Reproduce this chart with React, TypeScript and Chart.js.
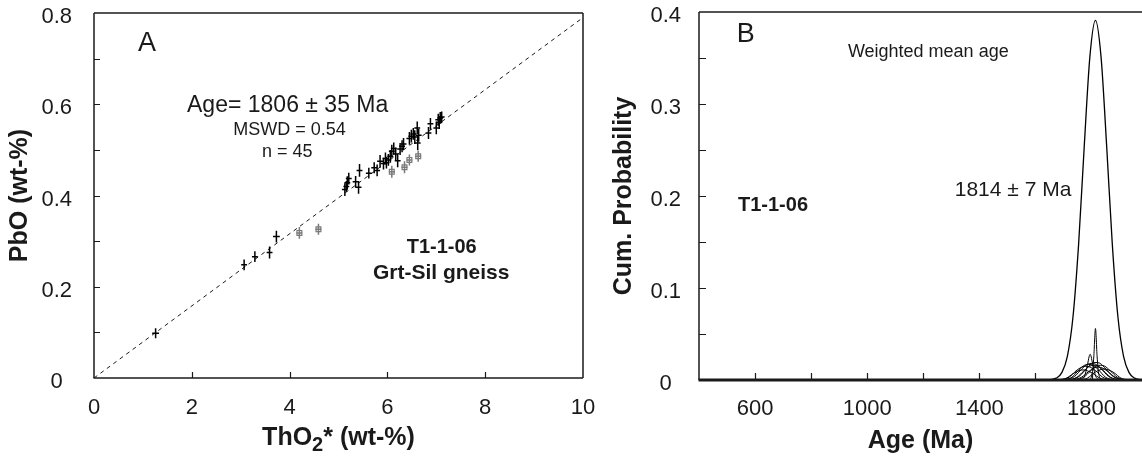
import React, { useEffect, useRef } from "react";
import { Chart, registerables } from "chart.js";
Chart.register(...registerables);

const FONT = '"Liberation Sans", Arial, Helvetica, sans-serif';
const INK = "#1a1a1a";

// ---------- Panel A: PbO vs ThO2* ----------
const thoBlack = [1.26, 3.07, 3.29, 3.59, 3.73, 5.13, 5.16, 5.18, 5.21, 5.35, 5.41, 5.43, 5.62, 5.73, 5.79, 5.85, 5.92, 5.96, 6.02, 6.06, 6.09, 6.13, 6.17, 6.21, 6.3, 6.33, 6.49, 6.53, 6.56, 6.61, 6.62, 6.64, 6.84, 6.88, 7.0, 7.04, 7.08, 7.11, 7.06, 5.98, 6.26, 6.45];
const pboBlack = [0.098, 0.248, 0.266, 0.275, 0.31, 0.413, 0.42, 0.428, 0.437, 0.43, 0.418, 0.455, 0.449, 0.461, 0.455, 0.475, 0.47, 0.481, 0.478, 0.486, 0.497, 0.503, 0.491, 0.476, 0.508, 0.513, 0.53, 0.535, 0.528, 0.548, 0.515, 0.532, 0.537, 0.557, 0.548, 0.566, 0.57, 0.572, 0.56, 0.472, 0.502, 0.525];
const thoErrBlack = [0.07, 0.06, 0.06, 0.06, 0.07, 0.06, 0.06, 0.06, 0.06, 0.06, 0.06, 0.06, 0.06, 0.06, 0.06, 0.06, 0.06, 0.06, 0.06, 0.06, 0.06, 0.06, 0.06, 0.06, 0.06, 0.06, 0.06, 0.06, 0.06, 0.06, 0.06, 0.06, 0.06, 0.06, 0.06, 0.06, 0.06, 0.06, 0.06, 0.06, 0.06, 0.06];
const pboErrBlack = [0.011, 0.012, 0.012, 0.013, 0.013, 0.014, 0.012, 0.014, 0.013, 0.013, 0.014, 0.014, 0.012, 0.012, 0.013, 0.014, 0.013, 0.013, 0.013, 0.014, 0.014, 0.013, 0.014, 0.014, 0.013, 0.013, 0.014, 0.013, 0.015, 0.014, 0.016, 0.014, 0.013, 0.013, 0.014, 0.013, 0.013, 0.012, 0.014, 0.013, 0.013, 0.014];
const thoGray = [4.2, 4.59, 6.09, 6.35, 6.45, 6.63];
const pboGray = [0.318, 0.326, 0.452, 0.462, 0.478, 0.486];
const thoErrGray = [0.06, 0.06, 0.06, 0.06, 0.06, 0.06];
const pboErrGray = [0.013, 0.012, 0.013, 0.013, 0.012, 0.012];
const refLineTho = [0, 10];
const refLinePbo = [0, 0.79];
const aXTicks = [0, 2, 4, 6, 8, 10];
const aXLabels = ["0", "2", "4", "6", "8", "10"];
const aYTicks = [0, 0.1, 0.2, 0.3, 0.4, 0.5, 0.6, 0.7, 0.8];
const aYLabels = ["0", "", "0.2", "", "0.4", "", "0.6", "", "0.8"];

// ---------- Panel B: probability density ----------
const mainAge = [400, 1614, 1654, 1674, 1694, 1714, 1734, 1754, 1774, 1794, 1814, 1834, 1854, 1874, 1894, 1914, 1934, 1954, 1974, 1980];
const mainProb = [0, 0, 0.0004, 0.002, 0.008, 0.026, 0.069, 0.148, 0.254, 0.351, 0.391, 0.351, 0.254, 0.148, 0.069, 0.026, 0.008, 0.002, 0.0004, 0];
const baselineAge = [400, 1980];
const baselineProb = [0, 0];
const grain1 = [[1680, 0], [1710, 0.002], [1735, 0.007], [1755, 0.01], [1770, 0.011], [1785, 0.01], [1805, 0.007], [1830, 0.002], [1860, 0]];
const grain2 = [[1690, 0], [1720, 0.003], [1745, 0.01], [1765, 0.014], [1780, 0.015], [1795, 0.014], [1815, 0.01], [1840, 0.003], [1870, 0]];
const grain3 = [[1700, 0], [1730, 0.003], [1755, 0.011], [1775, 0.016], [1790, 0.017], [1805, 0.016], [1825, 0.011], [1850, 0.003], [1880, 0]];
const grain4 = [[1710, 0], [1740, 0.004], [1765, 0.012], [1785, 0.017], [1800, 0.018], [1815, 0.017], [1835, 0.012], [1860, 0.004], [1890, 0]];
const grain5 = [[1718, 0], [1748, 0.003], [1773, 0.01], [1793, 0.015], [1808, 0.016], [1823, 0.015], [1843, 0.01], [1868, 0.003], [1898, 0]];
const grain6 = [[1726, 0], [1756, 0.004], [1781, 0.012], [1801, 0.018], [1816, 0.019], [1831, 0.018], [1851, 0.012], [1876, 0.004], [1906, 0]];
const grain7 = [[1734, 0], [1764, 0.003], [1789, 0.009], [1809, 0.013], [1824, 0.014], [1839, 0.013], [1859, 0.009], [1884, 0.003], [1914, 0]];
const grain8 = [[1742, 0], [1772, 0.003], [1797, 0.01], [1817, 0.015], [1832, 0.016], [1847, 0.015], [1867, 0.01], [1892, 0.003], [1922, 0]];
const grain9 = [[1755, 0], [1785, 0.002], [1810, 0.008], [1830, 0.011], [1845, 0.012], [1860, 0.011], [1880, 0.008], [1905, 0.002], [1935, 0]];
const grain10 = [[1760, 0], [1775, 0.004], [1785, 0.016], [1795, 0.028], [1805, 0.016], [1815, 0.004], [1830, 0]];
const grain11 = [[1790, 0], [1802, 0.006], [1808, 0.025], [1814, 0.056], [1820, 0.025], [1826, 0.006], [1838, 0]];
const grainCurves = [grain1, grain2, grain3, grain4, grain5, grain6, grain7, grain8, grain9, grain10, grain11];
const bXTicks = [400, 600, 800, 1000, 1200, 1400, 1600, 1800];
const bXLabels = ["", "600", "", "1000", "", "1400", "", "1800"];
const bYTicks = [0, 0.05, 0.1, 0.15, 0.2, 0.25, 0.3, 0.35, 0.4];
const bYLabels = ["0", "", "0.1", "", "0.2", "", "0.3", "", "0.4"];

// ---------- plugins ----------
const errorBars = {
  id: "errorBars",
  afterDatasetsDraw(chart: any) {
    const { ctx } = chart;
    const xs = chart.scales.x, ys = chart.scales.y;
    ctx.save();
    chart.data.datasets.forEach((ds: any) => {
      if (!ds.errX) return;
      ctx.strokeStyle = ds.errColor;
      ctx.lineWidth = 1.5;
      ds.data.forEach((p: any, i: number) => {
        const cx = xs.getPixelForValue(p.x), cy = ys.getPixelForValue(p.y);
        const x0 = xs.getPixelForValue(p.x - ds.errX[i]), x1 = xs.getPixelForValue(p.x + ds.errX[i]);
        const y0 = ys.getPixelForValue(p.y - ds.errY[i]), y1 = ys.getPixelForValue(p.y + ds.errY[i]);
        ctx.beginPath();
        ctx.moveTo(x0, cy); ctx.lineTo(x1, cy);
        ctx.moveTo(cx, y0); ctx.lineTo(cx, y1);
        ctx.stroke();
      });
    });
    ctx.restore();
  },
};

const frameAndTicks = {
  id: "frameAndTicks",
  afterDraw(chart: any, _a: any, opts: any) {
    const { ctx, chartArea: a } = chart;
    const xs = chart.scales.x, ys = chart.scales.y;
    ctx.save();
    ctx.strokeStyle = INK;
    ctx.lineWidth = 1.2;
    ctx.beginPath();
    xs.ticks.forEach((t: any) => {
      const p = Math.round(xs.getPixelForValue(t.value)) + 0.5;
      if (p <= a.left + 2 || p >= a.right - 2) return;
      ctx.moveTo(p, a.bottom); ctx.lineTo(p, a.bottom - opts.len);
    });
    ys.ticks.forEach((t: any) => {
      const p = Math.round(ys.getPixelForValue(t.value)) + 0.5;
      if (p <= a.top + 2 || p >= a.bottom - 2) return;
      ctx.moveTo(a.left, p); ctx.lineTo(a.left + opts.len, p);
    });
    ctx.stroke();
    const sides = opts.sides;
    const seg = (w: number, x0: number, y0: number, x1: number, y1: number) => {
      ctx.lineWidth = w; ctx.beginPath(); ctx.moveTo(x0, y0); ctx.lineTo(x1, y1); ctx.stroke();
    };
    if (sides.top) seg(sides.top, a.left, a.top, a.right, a.top);
    if (sides.right) seg(sides.right, a.right, a.top, a.right, a.bottom);
    if (sides.left) seg(sides.left, a.left, a.top, a.left, a.bottom);
    if (sides.bottom) seg(sides.bottom, a.left - 0.5, a.bottom, a.right, a.bottom);
    ctx.restore();
  },
};

const textNotes = {
  id: "textNotes",
  afterDraw(chart: any, _a: any, opts: any) {
    const { ctx } = chart;
    const xs = chart.scales.x, ys = chart.scales.y;
    ctx.save();
    ctx.fillStyle = INK;
    ctx.textBaseline = "middle";
    opts.items.forEach((it: any) => {
      ctx.font = `${it.bold ? "bold " : ""}${it.size}px ${FONT}`;
      ctx.textAlign = it.align || "center";
      ctx.fillText(it.text, xs.getPixelForValue(it.x), ys.getPixelForValue(it.y));
    });
    ctx.restore();
  },
};

// x-axis title with a real subscript, drawn beneath panel A
const subTitle = {
  id: "subTitle",
  afterDraw(chart: any, _a: any, opts: any) {
    const { ctx, chartArea: a } = chart;
    ctx.save();
    ctx.fillStyle = INK;
    ctx.textBaseline = "middle";
    ctx.textAlign = "left";
    const big = `bold ${opts.size}px ${FONT}`;
    const small = `bold ${opts.subSize}px ${FONT}`;
    ctx.font = big;
    const w1 = ctx.measureText(opts.before).width;
    const w3 = ctx.measureText(opts.after).width;
    ctx.font = small;
    const w2 = ctx.measureText(opts.sub).width;
    let x = (a.left + a.right) / 2 - (w1 + w2 + w3) / 2;
    const y = opts.y;
    ctx.font = big; ctx.fillText(opts.before, x, y); x += w1;
    ctx.font = small; ctx.fillText(opts.sub, x, y + opts.subDrop); x += w2;
    ctx.font = big; ctx.fillText(opts.after, x, y);
    ctx.restore();
  },
};

const tickFont = { family: FONT, size: 22 };
const titleFont = { family: FONT, size: 25, weight: "bold" as const };

const zeroPad = (s: any) => {
  s.paddingTop = 0; s.paddingBottom = 0; s.paddingLeft = 0; s.paddingRight = 0;
};

function makeA(canvas: HTMLCanvasElement) {
  return new Chart(canvas, {
    type: "scatter",
    data: {
      datasets: [
        {
          label: "ref",
          data: refLineTho.map((x, i) => ({ x, y: refLinePbo[i] })),
          showLine: true,
          borderColor: INK,
          borderWidth: 1,
          borderDash: [4, 4],
          pointRadius: 0,
        } as any,
        {
          label: "used",
          data: thoBlack.map((x, i) => ({ x, y: pboBlack[i] })),
          pointRadius: 0,
          errX: thoErrBlack,
          errY: pboErrBlack,
          errColor: "#000",
        } as any,
        {
          label: "excluded",
          data: thoGray.map((x, i) => ({ x, y: pboGray[i] })),
          pointStyle: "rect",
          pointRadius: 3.4,
          borderColor: "#7a7a7a",
          backgroundColor: "rgba(255,255,255,0)",
          borderWidth: 1.2,
          errX: thoErrGray,
          errY: pboErrGray,
          errColor: "#7a7a7a",
        } as any,
      ],
    },
    options: {
      animation: false,
      responsive: false,
      maintainAspectRatio: false,
      layout: { padding: { top: 13, right: 17, left: 0, bottom: 0 } },
      plugins: {
        legend: { display: false },
        tooltip: { enabled: false },
        frameAndTicks: { len: 6, sides: { top: 1.5, right: 1.5, left: 1.5, bottom: 1.5 } },
        subTitle: { before: "ThO", sub: "2", after: "* (wt-%)", size: 25, subSize: 20, subDrop: 7, y: 438 },
        textNotes: {
          items: [
            { text: "A", x: 0.9, y: 0.734, size: 27, align: "left" },
            { text: "Age= 1806 ± 35 Ma", x: 3.96, y: 0.598, size: 23 },
            { text: "MSWD = 0.54", x: 4.0, y: 0.544, size: 18 },
            { text: "n = 45", x: 3.95, y: 0.495, size: 18 },
            { text: "T1-1-06", x: 7.11, y: 0.285, size: 20, bold: true },
            { text: "Grt-Sil gneiss", x: 7.1, y: 0.23, size: 21, bold: true },
          ],
        },
      } as any,
      scales: {
        x: {
          type: "linear",
          min: 0,
          max: 10,
          afterBuildTicks: (s: any) => { s.ticks = aXTicks.map((value) => ({ value })); },
          ticks: { font: tickFont, color: INK, padding: 17, autoSkip: false, maxRotation: 0, callback: (_v: any, i: number) => aXLabels[i] },
          grid: { display: false, drawTicks: false },
          border: { display: false },
          title: { display: false },
          afterFit: (s: any) => { s.height = 88; zeroPad(s); },
        },
        y: {
          type: "linear",
          min: 0,
          max: 0.8,
          afterBuildTicks: (s: any) => { s.ticks = aYTicks.map((value) => ({ value })); },
          ticks: {
            font: tickFont,
            color: INK,
            padding: 22,
            labelOffset: 4,
            crossAlign: "center",
            autoSkip: false,
            callback: (_v: any, i: number) => aYLabels[i],
          },
          grid: { display: false, drawTicks: false },
          border: { display: false },
          title: { display: true, text: "PbO (wt-%)", font: titleFont, color: INK, padding: { top: 5, bottom: 0 } },
          afterFit: (s: any) => { s.width = 94; zeroPad(s); },
        },
      },
    },
    plugins: [errorBars, frameAndTicks, textNotes, subTitle],
  });
}

function makeB(canvas: HTMLCanvasElement) {
  const curve = (pts: number[][]) => ({
    data: pts.map((p) => ({ x: p[0], y: p[1] })),
    showLine: true,
    borderColor: "#000",
    borderWidth: 1,
    pointRadius: 0,
    cubicInterpolationMode: "monotone",
  });
  return new Chart(canvas, {
    type: "scatter",
    data: {
      datasets: [
        { ...curve(baselineAge.map((a, i) => [a, baselineProb[i]])), borderWidth: 2, label: "base" } as any,
        ...grainCurves.map((g, i) => ({ ...curve(g), label: "grain" + (i + 1) } as any)),
        { ...curve(mainAge.map((a, i) => [a, mainProb[i]])), borderWidth: 1.3, label: "weighted mean" } as any,
      ],
    },
    options: {
      animation: false,
      responsive: false,
      maintainAspectRatio: false,
      layout: { padding: { top: 12, right: 0, left: 0, bottom: 0 } },
      plugins: {
        legend: { display: false },
        tooltip: { enabled: false },
        frameAndTicks: { len: 7, sides: { top: 1.5, left: 1.5, bottom: 3 } },
        textNotes: {
          items: [
            { text: "B", x: 535, y: 0.375, size: 27, align: "left" },
            { text: "Weighted mean age", x: 931, y: 0.3565, size: 18, align: "left" },
            { text: "T1-1-06", x: 539, y: 0.19, size: 20, bold: true, align: "left" },
            { text: "1814 ± 7 Ma", x: 1728, y: 0.2065, size: 21, align: "right" },
          ],
        },
      } as any,
      scales: {
        x: {
          type: "linear",
          min: 400,
          max: 1980,
          afterBuildTicks: (s: any) => { s.ticks = bXTicks.map((value) => ({ value })); },
          ticks: {
            font: tickFont,
            color: INK,
            padding: 16,
            autoSkip: false,
            maxRotation: 0,
            callback: (_v: any, i: number) => bXLabels[i],
          },
          grid: { display: false, drawTicks: false },
          border: { display: false },
          title: { display: true, text: "Age (Ma)", font: titleFont, color: INK, padding: { top: 0, bottom: 10 } },
          afterFit: (s: any) => { s.height = 86; zeroPad(s); },
        },
        y: {
          type: "linear",
          min: 0,
          max: 0.4,
          afterBuildTicks: (s: any) => { s.ticks = bYTicks.map((value) => ({ value })); },
          ticks: {
            font: tickFont,
            color: INK,
            padding: 18,
            labelOffset: 4,
            crossAlign: "center",
            autoSkip: false,
            callback: (_v: any, i: number) => bYLabels[i],
          },
          grid: { display: false, drawTicks: false },
          border: { display: false },
          title: { display: true, text: "Cum. Probability", font: titleFont, color: INK, padding: { top: 9, bottom: 0 } },
          afterFit: (s: any) => { s.width = 99; zeroPad(s); },
        },
      },
    },
    plugins: [frameAndTicks, textNotes],
  });
}

export default function App() {
  const refA = useRef<HTMLCanvasElement>(null);
  const refB = useRef<HTMLCanvasElement>(null);
  useEffect(() => {
    const a = makeA(refA.current!);
    const b = makeB(refB.current!);
    return () => { a.destroy(); b.destroy(); };
  }, []);
  return (
    <div style={{ position: "fixed", left: 0, top: 0, width: 1142, height: 466, background: "#fff", overflow: "hidden" }}>
      <canvas ref={refA} width={600} height={466} style={{ position: "absolute", left: 0, top: 0, width: 600, height: 466 }} />
      <canvas ref={refB} width={542} height={466} style={{ position: "absolute", left: 600, top: 0, width: 542, height: 466 }} />
    </div>
  );
}
